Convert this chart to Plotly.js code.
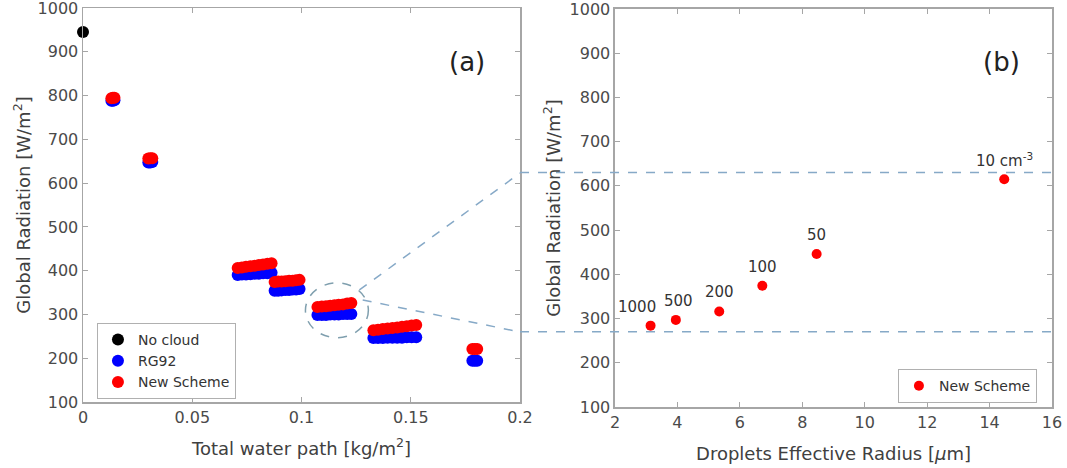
<!DOCTYPE html>
<html>
<head>
<meta charset="utf-8">
<script src="https://cdn.plot.ly/plotly-3.0.1.min.js"></script>
<style>
  html, body { margin: 0; padding: 0; background: #fff; }
  #chart { width: 1067px; height: 468px; }
</style>
</head>
<body>
<div id="chart"></div>
<script>
// Panel (a): global radiation against total water path
const noCloudTWP = [0];
const noCloudRad = [945];

const twp = [
  0.0130, 0.0137, 0.0144,
  0.0299, 0.0308, 0.0317,
  0.0708, 0.0727, 0.0746, 0.0766, 0.0786, 0.0805, 0.0824, 0.0844, 0.0863,
  0.0877, 0.0893, 0.0909, 0.0926, 0.0943, 0.0959, 0.0975, 0.0991,
  0.1073, 0.1093, 0.1112, 0.1131, 0.1151, 0.1170, 0.1190, 0.1209, 0.1228,
  0.1329, 0.1350, 0.1372, 0.1394, 0.1416, 0.1438, 0.1460, 0.1482, 0.1504, 0.1525,
  0.1782, 0.1793, 0.1804
];
const rg92Rad = [
  788, 788, 789,
  647, 647, 648,
  390, 391, 391, 392, 393, 393, 394, 394, 395,
  354, 354, 355, 356, 356, 357, 357, 358,
  299, 299, 299, 300, 300, 300, 301, 301, 301,
  246, 246, 246, 247, 247, 247, 247, 248, 248, 248,
  194, 194, 194
];
const newSchemeRad = [
  794, 795, 795,
  656, 657, 657,
  406, 407, 409, 410, 411, 413, 414, 416, 417,
  374, 375, 375, 376, 377, 377, 378, 379,
  317, 318, 319, 320, 321, 322, 323, 325, 326,
  264, 265, 267, 268, 269, 270, 272, 273, 275, 276,
  221, 221, 221
];

// Panel (b): radiation against droplet effective radius, labelled by droplet number
const effRadius = [3.14, 3.95, 5.34, 6.72, 8.46, 14.47];
const effRad    = [284, 297, 316, 374, 446, 615];
const numLabels = ['1000', '500', '200', '100', '50', '10 cm<sup>-3</sup>'];

// Zoom window: radiation band of the circled case, repeated across panel (b)
const bandTop = 630;
const bandBottom = 270;

const FONT = '"DejaVu Sans", "Liberation Sans", sans-serif';
const AXIS_LINE = '#a6a6a6';
const TICK_TXT = '#4a4a4a';
const DASH_COL = '#86a9c7';

const traces = [
  {
    x: noCloudTWP, y: noCloudRad, type: 'scatter', mode: 'markers',
    name: 'No cloud', marker: { color: '#000000', size: 12 },
    xaxis: 'x', yaxis: 'y', legend: 'legend', cliponaxis: false
  },
  {
    x: twp, y: rg92Rad, type: 'scatter', mode: 'markers',
    name: 'RG92', marker: { color: '#0000ff', size: 12 },
    xaxis: 'x', yaxis: 'y', legend: 'legend', cliponaxis: false
  },
  {
    x: twp, y: newSchemeRad, type: 'scatter', mode: 'markers',
    name: 'New Scheme', marker: { color: '#ff0000', size: 12 },
    xaxis: 'x', yaxis: 'y', legend: 'legend', cliponaxis: false
  },
  {
    x: effRadius, y: effRad, type: 'scatter', mode: 'markers',
    name: 'New Scheme', marker: { color: '#ff0000', size: 10 },
    xaxis: 'x2', yaxis: 'y2', legend: 'legend2', cliponaxis: false
  }
];

const axisBase = {
  showgrid: false, zeroline: false,
  showline: true, linecolor: AXIS_LINE, linewidth: 1.5, mirror: 'ticks',
  ticks: 'inside', ticklen: 5, tickcolor: AXIS_LINE, tickwidth: 1,
  ticklabeloverflow: 'allow', automargin: false,
  tickfont: { family: FONT, size: 16, color: TICK_TXT }
};

const axTitleFont = { family: FONT, size: 18, color: '#404040' };

const annotations = effRadius.map((r, i) => ({
  x: r, y: effRad[i], xref: 'x2', yref: 'y2',
  text: numLabels[i], showarrow: false,
  yshift: 19, xshift: i === 0 ? -14 : (i === 1 ? 3 : 0),
  font: { family: FONT, size: 15, color: '#333333' }
}));
annotations.push(
  { x: 0.924, y: 0.906, xref: 'x domain', yref: 'y domain', text: '(a)',
    showarrow: false, font: { family: FONT, size: 26, color: '#222222' } },
  { x: 0.931, y: 0.91, xref: 'x2 domain', yref: 'y2 domain', text: '(b)',
    showarrow: false, font: { family: FONT, size: 26, color: '#222222' } }
);

const shapes = [
  // circle around the zoomed cluster
  { type: 'circle', xref: 'x', yref: 'y', x0: 0.1018, x1: 0.1306, y0: 247, y1: 372,
    line: { color: '#7f9fae', width: 1.5, dash: 'dash' } },
  // connectors from the circle to the right edge of panel (a)
  { type: 'line', xref: 'x', yref: 'y', x0: 0.1265, y0: 356, x1: 0.2, y1: 623,
    line: { color: DASH_COL, width: 1.5, dash: 'dash' } },
  { type: 'line', xref: 'x', yref: 'y', x0: 0.128, y0: 333, x1: 0.2, y1: 260,
    line: { color: DASH_COL, width: 1.5, dash: 'dash' } },
  // band edges carried across panel (b)
  { type: 'line', xref: 'paper', yref: 'y2', x0: 0.451, x1: 1, y0: bandTop, y1: bandTop,
    line: { color: DASH_COL, width: 1.5, dash: 'dash' } },
  { type: 'line', xref: 'paper', yref: 'y2', x0: 0.451, x1: 1, y0: bandBottom, y1: bandBottom,
    line: { color: DASH_COL, width: 1.5, dash: 'dash' } }
];

const legendBase = {
  bgcolor: '#ffffff', bordercolor: '#b0b0b0', borderwidth: 1,
  font: { family: FONT, size: 14, color: '#333333' },
  xanchor: 'left', yanchor: 'top', itemclick: false
};

const layout = {
  width: 1067, height: 468,
  paper_bgcolor: '#ffffff', plot_bgcolor: '#ffffff',
  margin: { l: 83, r: 15, t: 8, b: 61 },
  font: { family: FONT },
  showlegend: true,
  xaxis: Object.assign({}, axisBase, {
    domain: [0, 0.451], range: [0, 0.2], dtick: 0.05, tick0: 0, anchor: 'y',
    title: { text: 'Total water path [kg/m<sup>2</sup>]', font: axTitleFont, standoff: 16 }
  }),
  yaxis: Object.assign({}, axisBase, {
    domain: [0.0125, 1], range: [100, 1000], dtick: 100, tick0: 100, anchor: 'x',
    title: { text: 'Global Radiation [W/m<sup>2</sup>]', font: axTitleFont, standoff: 2 }
  }),
  xaxis2: Object.assign({}, axisBase, {
    domain: [0.549, 1], range: [2, 16], dtick: 2, tick0: 2, anchor: 'y2',
    title: { text: 'Droplets Effective Radius [<i>μ</i>m]', font: axTitleFont, standoff: 16 }
  }),
  yaxis2: Object.assign({}, axisBase, {
    domain: [0, 0.9975], range: [100, 1000], dtick: 100, tick0: 100, anchor: 'x2',
    title: { text: 'Global Radiation [W/m<sup>2</sup>]', font: axTitleFont, standoff: 4 }
  }),
  legend: Object.assign({}, legendBase, { x: 0.0144, y: 0.2105, tracegroupgap: 0 }),
  legend2: Object.assign({}, legendBase, { x: 0.841, y: 0.095 }),
  annotations: annotations,
  shapes: shapes
};

Plotly.newPlot('chart', traces, layout, { staticPlot: true, displayModeBar: false });
</script>
</body>
</html>
